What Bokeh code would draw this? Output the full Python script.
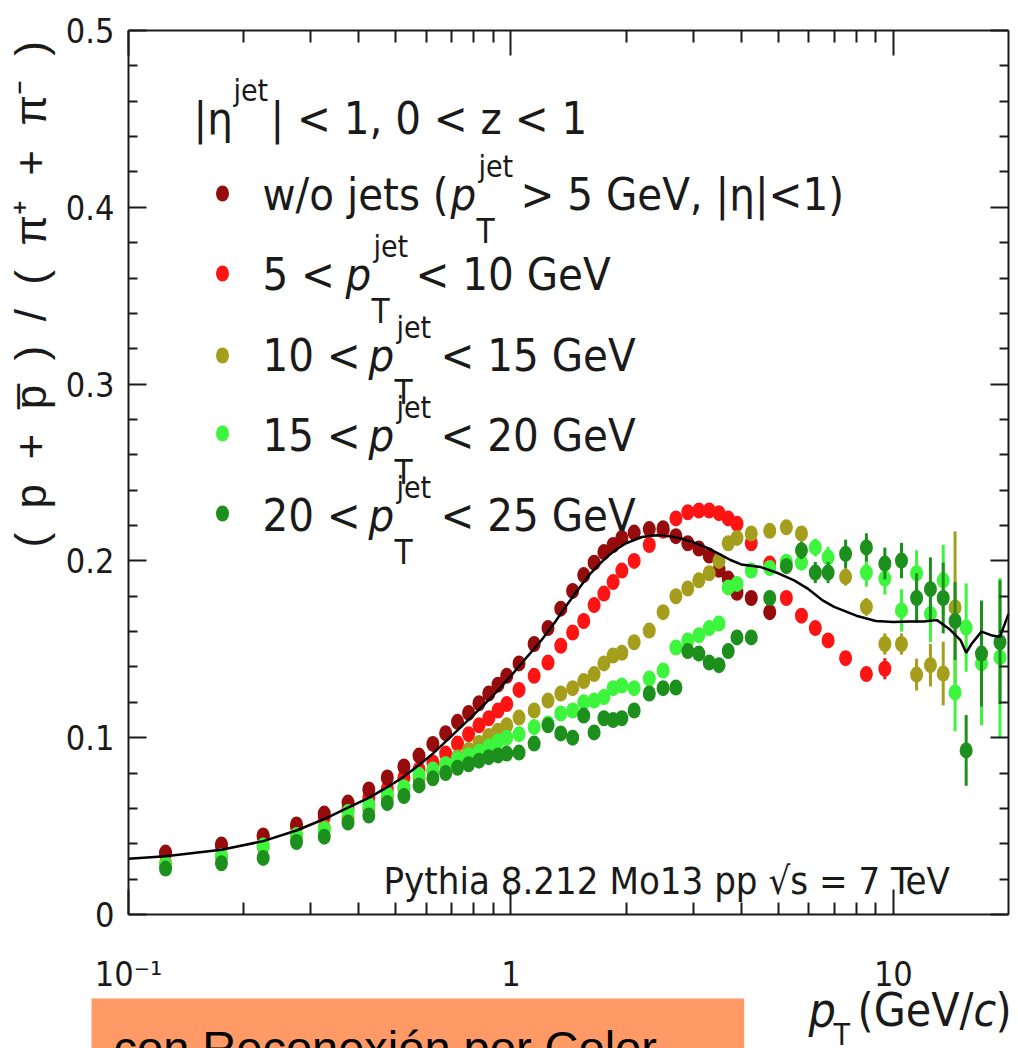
import numpy as np
from bokeh.plotting import figure
from bokeh.models import Label, FixedTicker, LinearAxis, LogAxis, ColumnDataSource, Range1d
from bokeh.embed import file_html
from bokeh.resources import INLINE

# ---------------- data ----------------
PT = [0.125, 0.175, 0.225, 0.275, 0.325, 0.375, 0.425, 0.475, 0.525, 0.575,
      0.625, 0.675, 0.725, 0.775, 0.825, 0.875, 0.925, 0.975, 1.05, 1.15,
      1.25, 1.35, 1.45, 1.55, 1.65, 1.75, 1.85, 1.95, 2.1, 2.3,
      2.5, 2.7, 2.9, 3.1, 3.3, 3.5, 3.7, 3.9, 4.25, 4.75,
      5.25, 5.75, 6.25, 6.75, 7.5, 8.5, 9.5, 10.5, 11.5, 12.5,
      13.5, 14.5, 15.5, 17.0, 19.0]

W_O_JETS = [0.035, 0.0396, 0.0447, 0.0509, 0.0571, 0.0633, 0.0707, 0.0775, 0.0837, 0.0899,
            0.0965, 0.1025, 0.109, 0.114, 0.1195, 0.125, 0.130, 0.135, 0.142, 0.153,
            0.162, 0.173, 0.183, 0.192, 0.199, 0.205, 0.209, 0.213, 0.216, 0.218,
            0.2185, 0.214, 0.210, 0.207, 0.203, 0.195, 0.190, 0.182, 0.179, 0.171,
            None, None, None, None, None, None, None, None, None, None,
            None, None, None, None, None]

JET_5_10 = [0.0345, 0.039, 0.044, 0.0495, 0.055, 0.060, 0.066, 0.071, 0.0775, 0.082,
            0.086, 0.091, 0.0967, 0.102, 0.107, 0.111, 0.1154, 0.119, 0.127, 0.135,
            0.1425, 0.152, 0.1595, 0.166, 0.175, 0.1815, 0.188, 0.1945, 0.200, 0.209,
            0.217, 0.224, 0.2275, 0.2285, 0.2285, 0.227, 0.224, 0.221, 0.210, 0.1985,
            0.179, 0.169, 0.162, 0.155, 0.145, 0.136, 0.139, None, None, None,
            None, None, None, None, None]
ERR_5_10 = [0, 0, 0, 0, 0, 0, 0, 0, 0, 0,
            0, 0, 0, 0, 0, 0, 0, 0, 0, 0,
            0, 0, 0, 0, 0, 0, 0, 0, 0, 0,
            0, 0, 0, 0, 0, 0, 0, 0, 0, 0,
            0, 0, 0, 0, 0.003, 0.003, 0.006, 0, 0, 0,
            0, 0, 0, 0, 0]

JET_10_15 = [0.029, 0.033, 0.038, 0.0445, 0.049, 0.055, 0.060, 0.066, 0.071, 0.077,
             0.081, 0.085, 0.089, 0.093, 0.097, 0.101, 0.104, 0.107, 0.1114, 0.1154,
             0.121, 0.125, 0.128, 0.132, 0.136, 0.142, 0.1465, 0.148, 0.154, 0.1606,
             0.171, 0.180, 0.1844, 0.189, 0.193, 0.200, 0.210, 0.213, 0.2155, 0.217,
             0.219, 0.2155, None, None, 0.191, 0.174, 0.153, 0.153, 0.1357, 0.141,
             0.1363, 0.1737, None, None, None]
ERR_10_15 = [0, 0, 0, 0, 0, 0, 0, 0, 0, 0,
             0, 0, 0, 0, 0, 0, 0, 0, 0, 0,
             0, 0, 0, 0, 0, 0, 0, 0, 0, 0,
             0, 0, 0, 0, 0, 0, 0, 0, 0, 0,
             0, 0.003, 0, 0, 0.005, 0.005, 0.006, 0.006, 0.009, 0.012,
             0.018, 0.043, 0, 0, 0]

JET_15_20 = [0.028, 0.033, 0.039, 0.045, 0.048, 0.058, 0.062, 0.068, 0.072, 0.079,
             0.082, 0.085, 0.088, 0.090, 0.092, 0.095, 0.098, 0.100, 0.102, 0.106,
             0.108, 0.1137, 0.1154, 0.120, 0.121, 0.123, 0.128, 0.1295, 0.128, 0.1335,
             0.138, 0.151, 0.155, 0.158, 0.162, 0.1646, 0.185, 0.187, 0.1945, 0.196,
             0.1995, 0.199, 0.2076, 0.202, None, 0.1934, 0.190, 0.172, 0.193, 0.170,
             0.189, 0.1256, 0.1623, 0.142, 0.1454]
ERR_15_20 = [0, 0, 0, 0, 0, 0, 0, 0, 0, 0,
             0, 0, 0, 0, 0, 0, 0, 0, 0, 0,
             0, 0, 0, 0, 0, 0, 0, 0, 0, 0,
             0, 0, 0, 0, 0, 0, 0, 0, 0, 0,
             0.004, 0.004, 0.005, 0.006, 0, 0.008, 0.009, 0.012, 0.013, 0.016,
             0.020, 0.022, 0.025, 0.035, 0.045]

JET_20_25 = [0.026, 0.029, 0.032, 0.041, 0.044, 0.052, 0.056, 0.063, 0.067, 0.073,
             0.077, 0.080, 0.083, 0.085, 0.087, 0.089, 0.090, 0.091, 0.0916, 0.0967,
             0.107, 0.1024, 0.100, 0.1125, 0.103, 0.111, 0.110, 0.111, 0.1154, 0.125,
             0.128, 0.1284, 0.149, 0.1476, 0.1425, 0.141, 0.149, 0.1567, 0.1567, 0.179,
             0.197, 0.206, 0.1934, 0.1934, 0.204, 0.2076, 0.1985, 0.2002, 0.179, 0.184,
             0.179, 0.166, 0.0928, 0.1476, 0.154]
ERR_20_25 = [0, 0, 0, 0, 0, 0, 0, 0, 0, 0,
             0, 0, 0, 0, 0, 0, 0, 0, 0, 0,
             0, 0, 0, 0, 0, 0, 0, 0, 0, 0,
             0, 0, 0.002, 0.002, 0.002, 0.002, 0, 0, 0, 0.003,
             0.004, 0.005, 0.006, 0.006, 0.008, 0.008, 0.009, 0.010, 0.014, 0.018,
             0.020, 0.022, 0.020, 0.030, 0.035]

# black curve (w/o jets, fine binning)
LINE_PT = [0.1, 0.125, 0.175, 0.225, 0.275, 0.325, 0.375, 0.425, 0.475, 0.525,
           0.575, 0.625, 0.7, 0.8, 0.9, 1.0, 1.1, 1.2, 1.3, 1.4,
           1.5, 1.6, 1.7, 1.8, 1.9, 2.0, 2.2, 2.4, 2.6, 2.8,
           3.0, 3.25, 3.5, 3.75, 4.0, 4.5, 5.0, 5.5, 6.0, 6.5,
           7.0, 8.0, 9.0, 10.0, 11.0, 12.0, 13.0, 14.0, 15.0, 15.5,
           16.0, 17.0, 18.0, 19.0, 20.0]
LINE_VAL = [0.0315, 0.033, 0.0366, 0.0415, 0.0475, 0.054, 0.0605, 0.066, 0.072, 0.078,
            0.0845, 0.091, 0.101, 0.113, 0.124, 0.135, 0.1455, 0.155, 0.165, 0.175,
            0.184, 0.192, 0.198, 0.203, 0.207, 0.210, 0.2135, 0.2145, 0.214, 0.2125,
            0.2105, 0.2075, 0.204, 0.2005, 0.198, 0.1965, 0.193, 0.189, 0.184, 0.178,
            0.174, 0.169, 0.166, 0.1655, 0.1657, 0.1657, 0.1665, 0.1615, 0.155, 0.148,
            0.153, 0.160, 0.158, 0.157, 0.170]

X_TICKS = [0.1, 1, 10]
X_TICK_LABELS = ["10\u207b\u00b9", "1", "10"]
Y_TICKS = [0.0, 0.1, 0.2, 0.3, 0.4, 0.5]
Y_TICK_LABELS = ["0", "0.1", "0.2", "0.3", "0.4", "0.5"]

# ---------------- styling ----------------
C_WO = "#960b0b"
C_5 = "#ff1414"
C_10 = "#a49e1c"
C_15 = "#3cf53c"
C_20 = "#1c8f1c"
INK = "#1a1a1a"
NARROW = "DejaVu Sans Condensed, Liberation Sans, sans-serif"
REG = "Liberation Sans, Arial, sans-serif"

X_MIN, X_MAX = 0.1, 20.0
Y_MIN, Y_MAX = 0.0, 0.5

# page geometry of the visible frame (pixels)
W, H = 1018, 1048
FL, FR, FT, FB = 128.0, 1008.0, 30.0, 914.0
LX0, LX1 = np.log10(X_MIN), np.log10(X_MAX)


def dx(px):
    return float(10 ** (LX0 + (px - FL) / (FR - FL) * (LX1 - LX0)))


def dy(py):
    return float(Y_MIN + (FB - py) / (FB - FT) * (Y_MAX - Y_MIN))


# the bokeh frame covers the whole canvas; the visible box is drawn by fixed axes
p = figure(width=W, height=H, x_axis_type="log",
           x_range=Range1d(dx(0), dx(W)), y_range=Range1d(dy(H), dy(0)),
           x_axis_location=None, y_axis_location=None,
           output_backend="svg", toolbar_location=None, min_border=0)
p.grid.visible = False
p.outline_line_color = None
p.background_fill_color = "white"
p.border_fill_color = "white"

x_minor = [0.2, 0.3, 0.4, 0.5, 0.6, 0.7, 0.8, 0.9, 2, 3, 4, 5, 6, 7, 8, 9]
y_minor = [round(0.02 * i, 2) for i in range(26) if i % 5 != 0]
xticker = FixedTicker(ticks=X_TICKS, minor_ticks=x_minor)
yticker = FixedTicker(ticks=Y_TICKS, minor_ticks=y_minor)


def make_axis(cls, loc, bounds, ticker, major_in, minor_in, labels=None,
              size="33px", standoff=10):
    ax = cls(fixed_location=loc, bounds=bounds, ticker=ticker)
    ax.axis_line_color = INK
    ax.axis_line_width = 2
    ax.major_tick_in = major_in
    ax.major_tick_out = 0
    ax.minor_tick_in = minor_in
    ax.minor_tick_out = 0
    ax.major_tick_line_color = INK
    ax.minor_tick_line_color = INK
    ax.major_tick_line_width = 2
    ax.minor_tick_line_width = 2
    if labels is None:
        ax.major_label_text_color = None
    else:
        ax.major_label_overrides = labels
        ax.major_label_text_font = NARROW
        ax.major_label_text_font_size = size
        ax.major_label_text_color = INK
        ax.major_label_standoff = standoff
    return ax


p.add_layout(make_axis(LogAxis, Y_MIN, (X_MIN, X_MAX), xticker, 25, 12,
                       dict(zip(X_TICKS, X_TICK_LABELS)), "34px", 39), "below")
p.add_layout(make_axis(LinearAxis, X_MIN, (Y_MIN, Y_MAX), yticker, 18, 9,
                       dict(zip(Y_TICKS, Y_TICK_LABELS)), "34px", 14), "left")
p.add_layout(make_axis(LogAxis, Y_MAX, (X_MIN, X_MAX), xticker, 25, 12), "above")
p.add_layout(make_axis(LinearAxis, X_MAX, (Y_MIN, Y_MAX), yticker, 18, 9), "right")


# ---------------- data marks ----------------
def draw(vals, errs, color):
    xs, ys, lo, hi = [], [], [], []
    for i, v in enumerate(vals):
        if v is None:
            continue
        xs.append(PT[i]); ys.append(v)
        e = errs[i] if errs is not None else 0
        lo.append(v - e); hi.append(v + e)
    src = ColumnDataSource(dict(x=xs, y=ys, lo=lo, hi=hi))
    if errs is not None:
        p.segment(x0="x", y0="lo", x1="x", y1="hi", source=src, line_color=color, line_width=3)
    p.ellipse(x="x", y="y", width=13, height=16, width_units="screen", height_units="screen",
              source=src, fill_color=color, line_color=None)


draw(JET_5_10, ERR_5_10, C_5)
draw(W_O_JETS, None, C_WO)
draw(JET_10_15, ERR_10_15, C_10)
draw(JET_15_20, ERR_15_20, C_15)
draw(JET_20_25, ERR_20_25, C_20)
p.line(LINE_PT, LINE_VAL, line_color="black", line_width=2.5)


# ---------------- annotations (positions in page pixels) ----------------
def lab(px, py, text, size, font=NARROW, style="normal", align="left",
        baseline="alphabetic", angle=0.0, color=INK, **kw):
    if baseline == "alphabetic":
        py = py - 0.37 * size   # compensate bokeh's baseline placement
    p.add_layout(Label(x=dx(px), y=dy(py), text=text, text_font=font,
                       text_font_size=f"{size}px", text_font_style=style,
                       text_align=align, text_baseline=baseline, angle=angle,
                       text_color=color, **kw))


# legend markers
leg_y = [193, 273, 355, 433, 513]
p.ellipse(x=[dx(222)] * 5, y=[dy(v) for v in leg_y], width=13, height=16,
          width_units="screen", height_units="screen",
          fill_color=[C_WO, C_5, C_10, C_15, C_20], line_color=None)

F = 45
SUP = 30
SUB = 33
# header
lab(193, 135, "|\u03b7", F)
lab(233, 101, "jet", SUP)
lab(270, 135, "| < 1, 0 < z < 1", F)

rows = [
    (211, "w/o jets (", 450, 520, "> 5 GeV, |\u03b7|<1)"),
    (291, "5 <", 345, 415, "< 10 GeV"),
    (372, "10 <", 368, 440, "< 15 GeV"),
    (452, "15 <", 368, 440, "< 20 GeV"),
    (532, "20 <", 368, 440, "< 25 GeV"),
]
for b, lead, px_, tx, tail in rows:
    lab(262, b, lead, F)
    lab(px_, b, "p", F, style="italic")
    lab(px_ + 28, b - 34, "jet", SUP)
    lab(px_ + 26, b + 32, "T", SUB)
    lab(tx, b, tail, F)

lab(383, 895, "Pythia 8.212 Mo13 pp \u221as = 7 TeV", 38)

# y title (rotated)
sp = "\u00a0\u00a0"
ytitle = sp.join(["(", "p", "+", "p\u0305", ")", "/", "(", "\u03c0\u207a", "+", "\u03c0\u207b", ")"])
lab(30, 547, ytitle, 44, font=REG, angle=float(np.pi / 2), baseline="middle")

# x title
lab(808, 1027, "p", 48, style="italic")
lab(833, 1016, "T", 30, baseline="top")
lab(857, 1027, "(GeV/", 46)
lab(973, 1027, "c", 46, style="italic")
lab(995, 1027, ")", 46)

# orange caption box (anchor = top-left corner of the box)
lab(91, 998, "con Reconexi\u00f3n por Color" + "\u00a0" * 5, 47, font=REG,
    baseline="top", color="black", background_fill_color="#ff9966", padding=22)

open("out.html", "w").write(file_html(p, INLINE))
